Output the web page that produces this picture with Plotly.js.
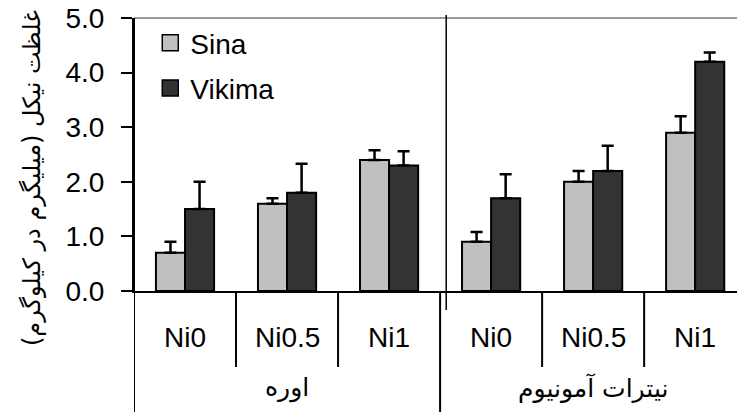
<!DOCTYPE html>
<html>
<head>
<meta charset="utf-8">
<script src="https://cdn.plot.ly/plotly-3.0.1.min.js"></script>
<style>html,body{margin:0;padding:0;background:#fff;}#chart{width:737px;height:412px;}</style>
</head>
<body>
<div id="chart"></div>
<script>
// ---- data ----
const categories = ['Ni0', 'Ni0.5', 'Ni1', 'Ni0', 'Ni0.5', 'Ni1'];
const groups = ['اوره', 'نیترات آمونیوم'];
const seriesNames = ['Sina', 'Vikima'];
const sinaValues = [0.7, 1.6, 2.4, 0.9, 2.0, 2.9];
const sinaErrors = [0.2, 0.1, 0.18, 0.18, 0.2, 0.3];
const vikimaValues = [1.5, 1.8, 2.3, 1.7, 2.2, 4.2];
const vikimaErrors = [0.5, 0.53, 0.26, 0.44, 0.46, 0.17];
const yTickValues = [0, 1, 2, 3, 4, 5];
const yTitle = 'غلظت نیکل (میلیگرم در کیلوگرم)';

// ---- styling ----
const FONT = 'Arial, "Liberation Sans", "DejaVu Sans", sans-serif';
const AFONT = '"DejaVu Sans", sans-serif';
const colors = ['#c0c0c0', '#333333'];
const xIdx = categories.map((_, i) => i);
const perGroup = categories.length / groups.length;

function barTrace(name, vals, errs, color) {
  return {
    type: 'bar', name: name, x: xIdx, y: vals, showlegend: false,
    marker: {color: color, line: {color: '#000', width: 2}},
    error_y: {type: 'data', symmetric: false, array: errs, arrayminus: vals.map(() => 0),
      color: '#000', thickness: 2.5, width: 6},
    hoverinfo: 'skip'
  };
}
const legendTrace = (name, color) => ({
  type: 'scatter', mode: 'markers', name: name, x: [null], y: [null],
  marker: {symbol: 'square', size: 20, color: color, line: {color: '#000', width: 1.5}},
  legendgroup: name
});

const traces = [
  barTrace(seriesNames[0], sinaValues, sinaErrors, colors[0]),
  barTrace(seriesNames[1], vikimaValues, vikimaErrors, colors[1]),
  legendTrace(seriesNames[0], colors[0]),
  legendTrace(seriesNames[1], colors[1])
];

// plot area geometry
const plotLeft = 134, plotTop = 18, plotBottom = 291, H = 412, W = 737;
const plotH = plotBottom - plotTop, plotW = W - plotLeft;
const pyToPaper = (py) => (plotBottom - py) / plotH;
const pxToPaper = (px) => (px - plotLeft) / plotW;

const shapes = [];
// top gray border
shapes.push({type: 'line', xref: 'paper', yref: 'paper', x0: 0, x1: 1, y0: 1, y1: 1,
  line: {color: '#999', width: 2}});
// left axis extension down to bottom
shapes.push({type: 'line', xref: 'x', yref: 'paper', x0: -0.5, x1: -0.5, y0: 1, y1: pyToPaper(H),
  line: {color: '#000', width: 2}});
// category dividers within groups and group dividers
for (let i = 0; i < categories.length - 1; i++) {
  const b = i + 0.5;
  if ((i + 1) % perGroup === 0) {
    shapes.push({type: 'line', xref: 'x', yref: 'paper', x0: b, x1: b, y0: 0, y1: pyToPaper(H),
      line: {color: '#000', width: 2}});
    shapes.push({type: 'line', xref: 'x', yref: 'paper', x0: b + 0.06, x1: b + 0.06,
      y0: pyToPaper(15), y1: pyToPaper(310), line: {color: '#000', width: 1.5}});
  } else {
    shapes.push({type: 'line', xref: 'x', yref: 'paper', x0: b, x1: b, y0: 0, y1: pyToPaper(367),
      line: {color: '#000', width: 2}});
  }
}

const annotations = [];
categories.forEach((c, i) => annotations.push({
  xref: 'x', yref: 'paper', x: i, y: pyToPaper(337), text: c, showarrow: false,
  xanchor: 'center', yanchor: 'middle', font: {family: FONT, size: 28, color: '#000'}
}));
groups.forEach((g, gi) => annotations.push({
  xref: 'x', yref: 'paper', x: gi * perGroup + (perGroup - 1) / 2, y: pyToPaper(388), text: g,
  showarrow: false, xanchor: 'center', yanchor: 'middle',
  font: {family: AFONT, size: 25, color: '#000'}
}));
// y axis title
annotations.push({
  xref: 'paper', yref: 'paper', x: pxToPaper(32), y: pyToPaper(178), text: yTitle,
  textangle: -90, showarrow: false, xanchor: 'center', yanchor: 'middle',
  font: {family: AFONT, size: 24, color: '#000'}
});

const layout = {
  width: W, height: H,
  margin: {l: plotLeft, r: 0, t: plotTop, b: H - plotBottom, pad: 0},
  paper_bgcolor: '#fff', plot_bgcolor: '#fff',
  font: {family: FONT, size: 28, color: '#000'},
  barmode: 'group', bargap: 0.43, bargroupgap: 0,
  xaxis: {range: [-0.5, 5.41], showticklabels: false, ticks: '', showgrid: false, zeroline: false,
    showline: true, linecolor: '#000', linewidth: 2, fixedrange: true},
  yaxis: {range: [0, 5], tickvals: yTickValues, tickformat: '.1f', ticks: 'outside', ticklen: 11,
    tickwidth: 2, tickcolor: '#000', showgrid: false, zeroline: false, showline: true,
    linecolor: '#000', linewidth: 2, ticklabelstandoff: 11,
    tickfont: {family: FONT, size: 28, color: '#000'},
    fixedrange: true},
  showlegend: true,
  legend: {x: 0.027, y: 1.0, xanchor: 'left', yanchor: 'top', bgcolor: 'rgba(0,0,0,0)',
    font: {family: FONT, size: 28, color: '#000'}, tracegroupgap: 6, itemwidth: 30},
  shapes: shapes, annotations: annotations
};

Plotly.newPlot('chart', traces, layout, {staticPlot: true, displayModeBar: false});
</script>
</body>
</html>
